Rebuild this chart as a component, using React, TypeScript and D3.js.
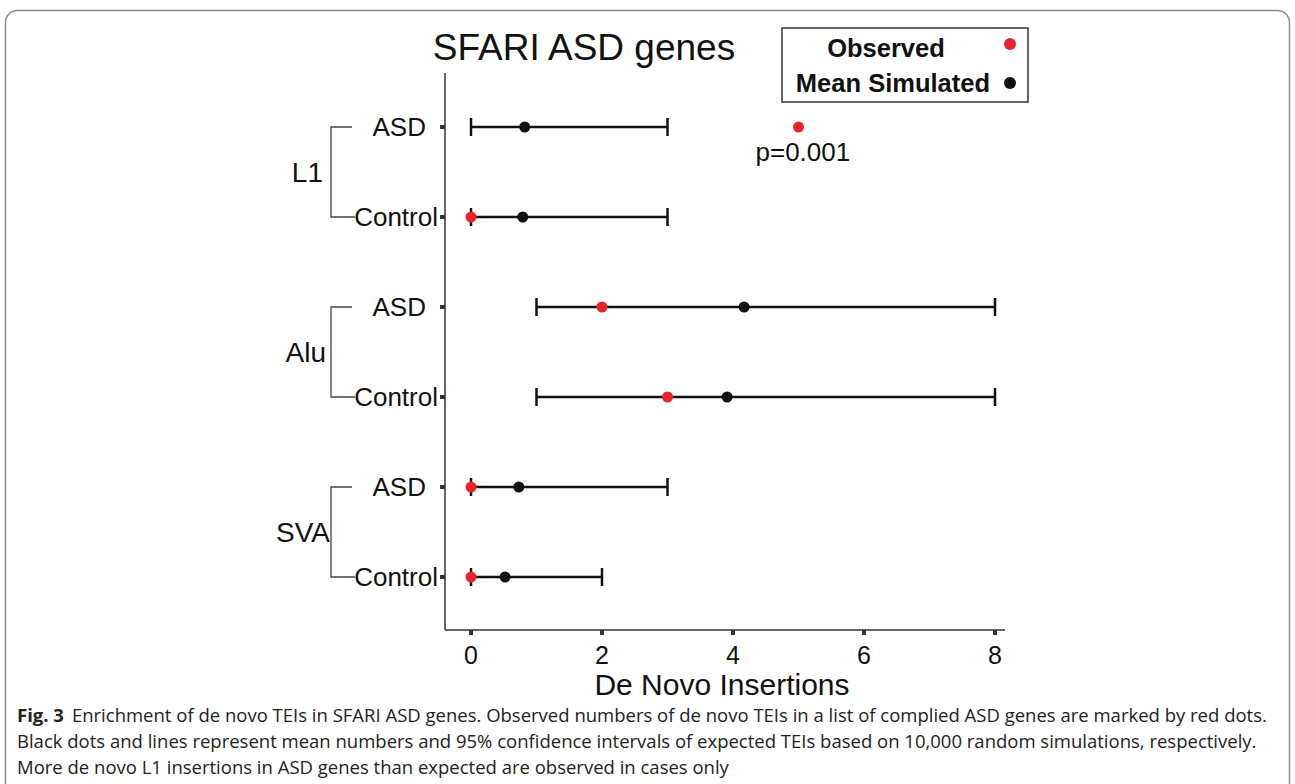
import React, { useEffect, useRef } from "react";
import * as d3 from "d3";

// rows, top to bottom
const groups = ["L1", "Alu", "SVA"];
const subgroups = ["ASD", "Control"];
const rowKeys = ["L1-ASD", "L1-Control", "Alu-ASD", "Alu-Control", "SVA-ASD", "SVA-Control"];
const ciLow = [0, 0, 1, 1, 0, 0];
const ciHigh = [3, 3, 8, 8, 3, 2];
const meanSimulated = [0.82, 0.79, 4.17, 3.91, 0.73, 0.52];
const observed = [5, 0, 2, 3, 0, 0];
const xTicks = [0, 2, 4, 6, 8];

const caption = [
  "Enrichment of de novo TEIs in SFARI ASD genes. Observed numbers of de novo TEIs in a list of complied ASD genes are marked by red dots.",
  "Black dots and lines represent mean numbers and 95% confidence intervals of expected TEIs based on 10,000 random simulations, respectively.",
  "More de novo L1 insertions in ASD genes than expected are observed in cases only",
];

const RED = "#e8232b";
const FONT = "'Liberation Sans', Arial, sans-serif";

export default function App() {
  const svgRef = useRef<SVGSVGElement>(null);

  useEffect(() => {
    const svg = d3.select(svgRef.current);
    svg.selectAll("*").remove();

    // frame
    svg.append("rect")
      .attr("x", 5.5).attr("y", 10.5).attr("width", 1284).attr("height", 790)
      .attr("rx", 12).attr("fill", "#fff").attr("stroke", "#8a8a8a").attr("stroke-width", 1.5);

    const x = d3.scaleLinear().domain([0, 8]).range([471, 995]);
    const y = d3.scalePoint<string>().domain(rowKeys).range([127, 577]);
    const axisX = 445;
    const axisY = 630;

    // axes lines
    svg.append("line").attr("x1", axisX).attr("x2", axisX).attr("y1", 73).attr("y2", axisY)
      .attr("stroke", "#333").attr("stroke-width", 1.5);
    svg.append("line").attr("x1", axisX).attr("x2", 1005).attr("y1", axisY).attr("y2", axisY)
      .attr("stroke", "#333").attr("stroke-width", 1.5);

    // x ticks
    svg.selectAll(".xt").data(xTicks).join("rect").attr("class", "xt")
      .attr("x", (d) => x(d) - 2).attr("y", axisY).attr("width", 4).attr("height", 5).attr("fill", "#333");
    svg.selectAll(".xl").data(xTicks).join("text").attr("class", "xl")
      .attr("x", (d) => x(d)).attr("y", 664).attr("text-anchor", "middle")
      .attr("font-family", FONT).attr("font-size", 25).attr("fill", "#111").text((d) => d);
    svg.append("text").attr("x", 722).attr("y", 695).attr("text-anchor", "middle")
      .attr("font-family", FONT).attr("font-size", 30).attr("fill", "#111").text("De Novo Insertions");

    // y ticks
    svg.selectAll(".yt").data(rowKeys).join("rect").attr("class", "yt")
      .attr("x", axisX - 5).attr("y", (d) => y(d)! - 2).attr("width", 5).attr("height", 4).attr("fill", "#333");

    // row labels
    svg.selectAll(".yl").data(rowKeys).join("text").attr("class", "yl")
      .attr("x", (d) => (d.endsWith("ASD") ? 426 : 438)).attr("y", (d) => y(d)! + 9)
      .attr("text-anchor", "end").attr("font-family", FONT).attr("font-size", 26).attr("fill", "#111")
      .text((d) => d.split("-")[1]);

    // group brackets
    groups.forEach((g) => {
      const top = y(`${g}-${subgroups[0]}`)!;
      const bot = y(`${g}-${subgroups[1]}`)!;
      svg.append("path")
        .attr("d", `M352,${top}H331V${bot}H355`)
        .attr("fill", "none").attr("stroke", "#444").attr("stroke-width", 1.3);
      svg.append("text").attr("x", g === "SVA" ? 330 : g === "Alu" ? 326 : 323).attr("y", (top + bot) / 2 + 10)
        .attr("text-anchor", "end").attr("font-family", FONT).attr("font-size", 28).attr("fill", "#111").text(g);
    });

    // error bars
    const rows = rowKeys.map((k, i) => ({ k, lo: ciLow[i], hi: ciHigh[i], mean: meanSimulated[i], obs: observed[i] }));
    const bars = svg.append("g").attr("stroke", "#111").attr("stroke-width", 2.5);
    bars.selectAll(".bar").data(rows).join("line")
      .attr("x1", (d) => x(d.lo)).attr("x2", (d) => x(d.hi)).attr("y1", (d) => y(d.k)!).attr("y2", (d) => y(d.k)!);
    bars.selectAll(".capl").data(rows).join("line").attr("class", "capl")
      .attr("x1", (d) => x(d.lo)).attr("x2", (d) => x(d.lo)).attr("y1", (d) => y(d.k)! - 9).attr("y2", (d) => y(d.k)! + 9);
    bars.selectAll(".caph").data(rows).join("line").attr("class", "caph")
      .attr("x1", (d) => x(d.hi)).attr("x2", (d) => x(d.hi)).attr("y1", (d) => y(d.k)! - 9).attr("y2", (d) => y(d.k)! + 9);

    svg.selectAll(".mean").data(rows).join("circle").attr("class", "mean")
      .attr("cx", (d) => x(d.mean)).attr("cy", (d) => y(d.k)!).attr("r", 5.5).attr("fill", "#111");
    svg.selectAll(".obs").data(rows).join("circle").attr("class", "obs")
      .attr("cx", (d) => x(d.obs)).attr("cy", (d) => y(d.k)!).attr("r", 5.5).attr("fill", RED);

    svg.append("text").attr("x", x(5) - 43).attr("y", 161).attr("font-family", FONT)
      .attr("font-size", 26).attr("fill", "#111").text("p=0.001");

    // title
    svg.append("text").attr("x", 584).attr("y", 60).attr("text-anchor", "middle")
      .attr("font-family", FONT).attr("font-size", 37).attr("fill", "#111").text("SFARI ASD genes");

    // legend
    svg.append("rect").attr("x", 782).attr("y", 28).attr("width", 246).attr("height", 74)
      .attr("fill", "#fff").attr("stroke", "#333").attr("stroke-width", 1.5);
    svg.append("text").attr("x", 886).attr("y", 57).attr("text-anchor", "middle")
      .attr("font-family", FONT).attr("font-weight", "bold").attr("font-size", 25.5).attr("fill", "#111").text("Observed");
    svg.append("text").attr("x", 990).attr("y", 92).attr("text-anchor", "end")
      .attr("font-family", FONT).attr("font-weight", "bold").attr("font-size", 25.5).attr("fill", "#111").text("Mean Simulated");
    svg.append("circle").attr("cx", 1010).attr("cy", 44).attr("r", 6).attr("fill", RED);
    svg.append("circle").attr("cx", 1010).attr("cy", 83).attr("r", 6).attr("fill", "#111");

    // caption
    const cap = svg.append("g").attr("font-family", "'Open Sans', 'Noto Sans', sans-serif")
      .attr("font-size", 18.5).attr("fill", "#222");
    const first = cap.append("text").attr("x", 17).attr("y", 722);
    first.append("tspan").attr("font-weight", "bold").text("Fig. 3");
    first.append("tspan").attr("dx", 8).text(caption[0]);
    caption.slice(1).forEach((t, i) => {
      cap.append("text").attr("x", 17).attr("y", 748 + i * 26).text(t);
    });
  }, []);

  return (
    <svg ref={svgRef} width={1295} height={784}
      style={{ position: "absolute", left: 0, top: 0, display: "block" }} />
  );
}
